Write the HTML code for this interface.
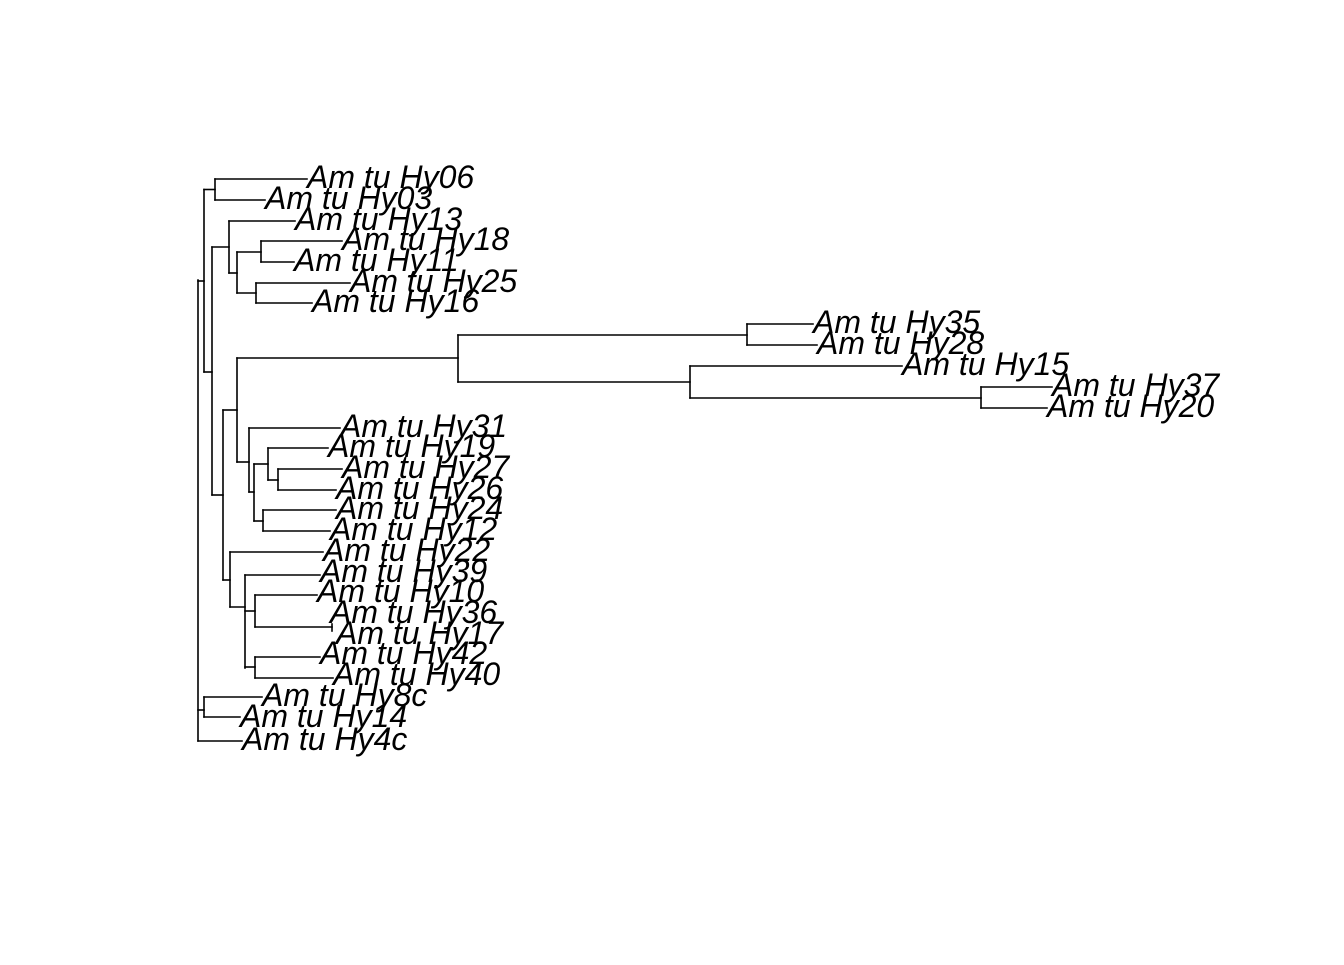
<!DOCTYPE html>
<html><head><style>html,body{margin:0;padding:0;background:#fff}</style></head><body>
<svg width="1344" height="960" xmlns="http://www.w3.org/2000/svg">
<g stroke="#000" stroke-width="1.6" fill="none" stroke-linecap="square">
<line x1="198" y1="280" x2="198" y2="741"/>
<line x1="198" y1="281" x2="204" y2="281"/>
<line x1="198" y1="741" x2="242" y2="741"/>
<line x1="198" y1="710" x2="204" y2="710"/>
<line x1="204" y1="697" x2="204" y2="717"/>
<line x1="204" y1="697" x2="262" y2="697"/>
<line x1="204" y1="717" x2="240" y2="717"/>
<line x1="204" y1="189.5" x2="204" y2="372"/>
<line x1="204" y1="189.5" x2="215" y2="189.5"/>
<line x1="215" y1="179" x2="215" y2="200"/>
<line x1="215" y1="179" x2="307" y2="179"/>
<line x1="215" y1="200" x2="265" y2="200"/>
<line x1="204" y1="372" x2="212" y2="372"/>
<line x1="212" y1="247" x2="212" y2="495"/>
<line x1="212" y1="247" x2="229" y2="247"/>
<line x1="229" y1="221" x2="229" y2="273"/>
<line x1="229" y1="221" x2="295" y2="221"/>
<line x1="229" y1="273" x2="237" y2="273"/>
<line x1="237" y1="252" x2="237" y2="293"/>
<line x1="237" y1="252" x2="261" y2="252"/>
<line x1="261" y1="241" x2="261" y2="262"/>
<line x1="261" y1="241" x2="342" y2="241"/>
<line x1="261" y1="262" x2="294" y2="262"/>
<line x1="237" y1="293" x2="256" y2="293"/>
<line x1="256" y1="283" x2="256" y2="303"/>
<line x1="256" y1="283" x2="350" y2="283"/>
<line x1="256" y1="303" x2="312" y2="303"/>
<line x1="212" y1="495" x2="223" y2="495"/>
<line x1="223" y1="410" x2="223" y2="580"/>
<line x1="223" y1="410" x2="237" y2="410"/>
<line x1="237" y1="358" x2="237" y2="462"/>
<line x1="237" y1="358" x2="458" y2="358"/>
<line x1="458" y1="335" x2="458" y2="382"/>
<line x1="458" y1="335" x2="747" y2="335"/>
<line x1="747" y1="324" x2="747" y2="345"/>
<line x1="747" y1="324" x2="813" y2="324"/>
<line x1="747" y1="345" x2="817" y2="345"/>
<line x1="458" y1="382" x2="690" y2="382"/>
<line x1="690" y1="366" x2="690" y2="398"/>
<line x1="690" y1="366" x2="902" y2="366"/>
<line x1="690" y1="398" x2="981" y2="398"/>
<line x1="981" y1="387" x2="981" y2="408"/>
<line x1="981" y1="387" x2="1052" y2="387"/>
<line x1="981" y1="408" x2="1047" y2="408"/>
<line x1="237" y1="462" x2="249" y2="462"/>
<line x1="249" y1="428" x2="249" y2="492"/>
<line x1="249" y1="428" x2="340" y2="428"/>
<line x1="249" y1="492" x2="254" y2="492"/>
<line x1="254" y1="464" x2="254" y2="521"/>
<line x1="254" y1="464" x2="268" y2="464"/>
<line x1="268" y1="448" x2="268" y2="480"/>
<line x1="268" y1="448" x2="328" y2="448"/>
<line x1="268" y1="480" x2="278" y2="480"/>
<line x1="278" y1="469" x2="278" y2="490"/>
<line x1="278" y1="469" x2="342" y2="469"/>
<line x1="278" y1="490" x2="336" y2="490"/>
<line x1="254" y1="521" x2="263" y2="521"/>
<line x1="263" y1="510" x2="263" y2="531"/>
<line x1="263" y1="510" x2="336" y2="510"/>
<line x1="263" y1="531" x2="330" y2="531"/>
<line x1="223" y1="580" x2="230" y2="580"/>
<line x1="230" y1="552" x2="230" y2="607"/>
<line x1="230" y1="552" x2="323" y2="552"/>
<line x1="230" y1="607" x2="245" y2="607"/>
<line x1="245" y1="575" x2="245" y2="668"/>
<line x1="245" y1="575" x2="320" y2="575"/>
<line x1="245" y1="611" x2="255" y2="611"/>
<line x1="255" y1="595" x2="255" y2="627"/>
<line x1="255" y1="595" x2="317" y2="595"/>
<line x1="255" y1="627" x2="332" y2="627"/>
<line x1="332" y1="624" x2="332" y2="631"/>
<line x1="245" y1="667" x2="255" y2="667"/>
<line x1="255" y1="657" x2="255" y2="678"/>
<line x1="255" y1="657" x2="320" y2="657"/>
<line x1="255" y1="678" x2="333" y2="678"/>
</g>
<g font-family="Liberation Sans, Arial, sans-serif" font-style="italic" font-size="32" fill="#000">
<text x="307" y="188">Am tu Hy06</text>
<text x="265" y="209">Am tu Hy03</text>
<text x="295" y="230">Am tu Hy13</text>
<text x="342" y="250">Am tu Hy18</text>
<text x="294" y="271">Am tu Hy11</text>
<text x="350" y="292">Am tu Hy25</text>
<text x="312" y="312">Am tu Hy16</text>
<text x="813" y="333">Am tu Hy35</text>
<text x="817" y="354">Am tu Hy28</text>
<text x="902" y="375">Am tu Hy15</text>
<text x="1052" y="396">Am tu Hy37</text>
<text x="1047" y="417">Am tu Hy20</text>
<text x="340" y="437">Am tu Hy31</text>
<text x="328" y="457">Am tu Hy19</text>
<text x="342" y="478">Am tu Hy27</text>
<text x="336" y="499">Am tu Hy26</text>
<text x="336" y="519">Am tu Hy24</text>
<text x="330" y="540">Am tu Hy12</text>
<text x="323" y="561">Am tu Hy22</text>
<text x="320" y="582">Am tu Hy39</text>
<text x="317" y="602">Am tu Hy10</text>
<text x="330" y="623">Am tu Hy36</text>
<text x="336" y="644">Am tu Hy17</text>
<text x="320" y="664">Am tu Hy42</text>
<text x="333" y="685">Am tu Hy40</text>
<text x="262" y="706">Am tu Hy8c</text>
<text x="240" y="727">Am tu Hy14</text>
<text x="242" y="750">Am tu Hy4c</text>
</g>
</svg>
</body></html>
